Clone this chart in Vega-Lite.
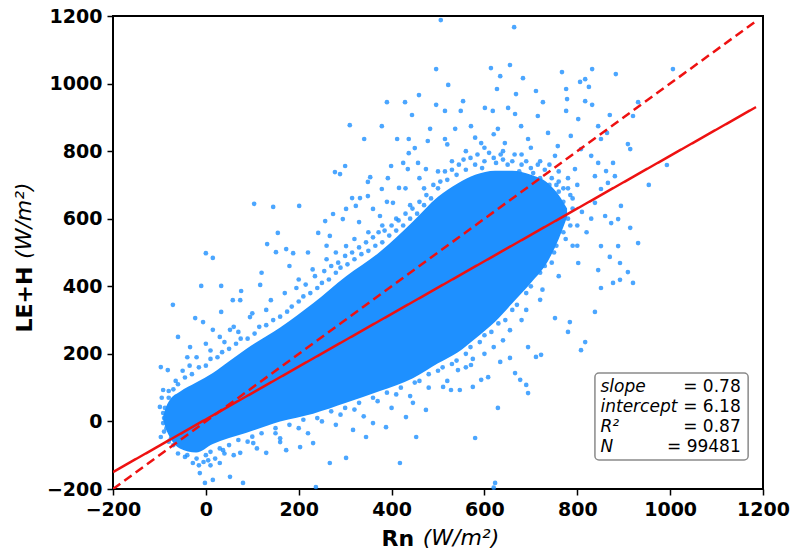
{
  "$schema": "https://vega.github.io/schema/vega-lite/v6.json",
  "width": 650,
  "height": 473,
  "autosize": {"type": "none"},
  "padding": {"left": 113, "top": 16, "right": 30, "bottom": 62},
  "background": "white",
  "config": {
    "view": {"stroke": "#000000", "strokeWidth": 2},
    "font": "DejaVu Sans",
    "axis": {
      "grid": false, "domain": false,
      "tickColor": "#000000", "tickWidth": 1.5, "tickSize": 6,
      "labelFont": "DejaVu Sans", "labelFontWeight": "bold", "labelFontSize": 19, "labelColor": "#000000",
      "labelOverlap": false, "labelFlush": false,
      "titleFont": "DejaVu Sans", "titleFontWeight": "bold", "titleFontSize": 22, "titleColor": "#000000"
    }
  },
  "layer": [
    {
      "data": {"values": [
        {"x": -92, "lo": 5, "hi": 15}, {"x": -86, "lo": -22, "hi": 42}, {"x": -77, "lo": -48, "hi": 65},
        {"x": -56, "lo": -80, "hi": 88}, {"x": -21, "lo": -92, "hi": 115}, {"x": 15, "lo": -67, "hi": 143},
        {"x": 50, "lo": -49, "hi": 178}, {"x": 86, "lo": -34, "hi": 214}, {"x": 160, "lo": 0, "hi": 278},
        {"x": 231, "lo": 23, "hi": 350}, {"x": 302, "lo": 55, "hi": 430}, {"x": 375, "lo": 90, "hi": 502},
        {"x": 446, "lo": 128, "hi": 592}, {"x": 500, "lo": 172, "hi": 665}, {"x": 543, "lo": 205, "hi": 705},
        {"x": 580, "lo": 245, "hi": 730}, {"x": 623, "lo": 295, "hi": 742}, {"x": 660, "lo": 350, "hi": 742},
        {"x": 700, "lo": 410, "hi": 730}, {"x": 737, "lo": 475, "hi": 705}, {"x": 760, "lo": 540, "hi": 670},
        {"x": 778, "lo": 605, "hi": 630}
      ]},
      "mark": {"type": "area", "color": "#1E90FF", "opacity": 1, "interpolate": "monotone"},
      "encoding": {
        "x": {"field": "x", "type": "quantitative",
              "scale": {"domain": [-200, 1200], "nice": false, "zero": false},
              "axis": {"values": [-200, 0, 200, 400, 600, 800, 1000, 1200], "format": "d", "title": "Rn",
                       "titleX": 268, "titleY": 49, "titleAlign": "left", "titleBaseline": "middle", "labelPadding": 5}},
        "y": {"field": "hi", "type": "quantitative",
              "scale": {"domain": [-200, 1200], "nice": false, "zero": false},
              "axis": {"values": [-200, 0, 200, 400, 600, 800, 1000, 1200], "format": "d", "title": "LE+H",
                       "titleAngle": 270, "titleX": -89, "titleY": 316, "titleAlign": "left", "titleBaseline": "middle", "labelPadding": 5}},
        "y2": {"field": "lo"}
      }
    },
    {
      "data": {"values": [
        {"x":506,"y":1188},{"x":664,"y":1167},{"x":496,"y":1043},{"x":459,"y":966},{"x":390,"y":945},{"x":429,"y":945},{"x":444,"y":907},{"x":496,"y":937},
        {"x":310,"y":877},{"x":379,"y":874},{"x":341,"y":836},{"x":412,"y":836},{"x":437,"y":836},{"x":483,"y":866},{"x":478,"y":830},{"x":450,"y":809},
        {"x":437,"y":794},{"x":300,"y":756},{"x":278,"y":738},{"x":289,"y":732},{"x":354,"y":723},{"x":349,"y":709},{"x":399,"y":756},{"x":392,"y":720},
        {"x":425,"y":765},{"x":435,"y":747},{"x":457,"y":765},{"x":474,"y":747},{"x":315,"y":661},{"x":332,"y":661},{"x":349,"y":667},{"x":379,"y":688},
        {"x":416,"y":691},{"x":104,"y":644},{"x":145,"y":635},{"x":201,"y":638},{"x":242,"y":558},{"x":274,"y":614},{"x":257,"y":593},{"x":302,"y":629},
        {"x":295,"y":599},{"x":323,"y":638},{"x":360,"y":629},{"x":375,"y":608},{"x":403,"y":647},{"x":155,"y":558},{"x":132,"y":525},{"x":0,"y":498},
        {"x":151,"y":501},{"x":173,"y":510},{"x":188,"y":498},{"x":267,"y":549},{"x":302,"y":519},
        {"x":15,"y":484},{"x":-71,"y":345},{"x":-10,"y":401},{"x":33,"y":401},{"x":76,"y":386},{"x":117,"y":404},{"x":140,"y":359},{"x":-60,"y":250},
        {"x":-23,"y":306},{"x":-6,"y":294},{"x":33,"y":324},{"x":58,"y":359},{"x":74,"y":359},{"x":95,"y":309},{"x":52,"y":271},{"x":15,"y":271},
        {"x":-34,"y":220},{"x":-97,"y":161},{"x":-82,"y":152},{"x":-92,"y":93},{"x":-99,"y":43},{"x":-92,"y":25},{"x":-97,"y":-46},{"x":-45,"y":-105},
        {"x":-28,"y":-123},{"x":-13,"y":-153},{"x":-2,"y":-182},{"x":15,"y":-173},{"x":30,"y":-123},{"x":52,"y":-164},{"x":80,"y":-182},{"x":37,"y":-85},
        {"x":74,"y":-93},{"x":102,"y":-64},{"x":130,"y":-93},{"x":173,"y":-85},{"x":160,"y":-61},{"x":203,"y":-76},{"x":231,"y":-64},{"x":267,"y":-123},
        {"x":302,"y":-108},{"x":317,"y":-25},{"x":345,"y":-46},{"x":360,"y":-5},{"x":388,"y":-17},{"x":418,"y":-123},{"x":431,"y":13},{"x":453,"y":-46},
        {"x":446,"y":55},{"x":474,"y":34},{"x":237,"y":-194},{"x":620,"y":-196},
        {"x":920,"y":410},{"x":909,"y":442},{"x":892,"y":419},{"x":877,"y":410},{"x":851,"y":395},{"x":838,"y":324},{"x":817,"y":235},{"x":808,"y":211},
        {"x":780,"y":265},{"x":784,"y":294},{"x":752,"y":306},{"x":722,"y":197},{"x":711,"y":191},{"x":694,"y":220},{"x":677,"y":123},{"x":690,"y":108},
        {"x":694,"y":84},{"x":666,"y":143},{"x":655,"y":188},{"x":634,"y":176},{"x":629,"y":40},{"x":593,"y":123},{"x":575,"y":102},{"x":580,"y":-49},
        {"x":623,"y":-182},{"x":528,"y":93},{"x":511,"y":102},{"x":547,"y":93},{"x":608,"y":131},{"x":571,"y":167},{"x":543,"y":152},{"x":802,"y":469},
        {"x":845,"y":448},{"x":892,"y":469},{"x":870,"y":487},
        {"x":614,"y":1046},{"x":655,"y":1055},{"x":634,"y":1022},{"x":683,"y":1016},{"x":522,"y":996},{"x":627,"y":984},{"x":668,"y":969},{"x":711,"y":978},
        {"x":767,"y":1034},{"x":832,"y":1043},{"x":883,"y":1028},{"x":806,"y":1005},{"x":817,"y":1013},{"x":825,"y":990},{"x":776,"y":984},{"x":778,"y":954},
        {"x":817,"y":948},{"x":832,"y":937},{"x":1006,"y":1043},{"x":931,"y":945},{"x":920,"y":904},{"x":870,"y":907},{"x":909,"y":821},{"x":914,"y":806},
        {"x":993,"y":759},{"x":954,"y":700},{"x":554,"y":948},{"x":549,"y":919},{"x":515,"y":919},{"x":601,"y":928},{"x":618,"y":919},{"x":651,"y":928},
        {"x":666,"y":910},{"x":726,"y":945},{"x":715,"y":904},{"x":776,"y":919},{"x":802,"y":895},{"x":845,"y":874},{"x":864,"y":854},{"x":851,"y":836},
        {"x":877,"y":765},{"x":862,"y":741},{"x":881,"y":726},{"x":866,"y":706},{"x":894,"y":638},{"x":888,"y":599},{"x":914,"y":573},{"x":931,"y":528},
        {"x":873,"y":587},{"x":851,"y":519},{"x":888,"y":519},{"x":571,"y":874},{"x":593,"y":824},{"x":629,"y":866},{"x":679,"y":874},{"x":694,"y":836},
        {"x":737,"y":854},{"x":758,"y":815},{"x":786,"y":845},{"x":808,"y":806},{"x":830,"y":786},{"x":845,"y":765},{"x":838,"y":726},{"x":851,"y":688},
        {"x":838,"y":647},{"x":860,"y":608},{"x":515,"y":836},{"x":537,"y":866},{"x":644,"y":824},{"x":752,"y":786},{"x":795,"y":747},
        {"x":-60,"y":110},{"x":-45,"y":130},{"x":-30,"y":140},{"x":-15,"y":160},{"x":0,"y":165},{"x":10,"y":185},{"x":25,"y":190},{"x":35,"y":205},
        {"x":50,"y":215},{"x":65,"y":230},{"x":75,"y":245},{"x":90,"y":245},{"x":105,"y":260},{"x":115,"y":280},{"x":130,"y":285},{"x":145,"y":300},
        {"x":160,"y":310},{"x":175,"y":325},{"x":185,"y":340},{"x":200,"y":355},{"x":210,"y":370},{"x":225,"y":380},{"x":240,"y":395},{"x":250,"y":410},
        {"x":265,"y":420},{"x":280,"y":440},{"x":290,"y":455},{"x":305,"y":465},{"x":320,"y":480},{"x":335,"y":495},{"x":350,"y":505},{"x":365,"y":520},
        {"x":380,"y":530},{"x":395,"y":550},{"x":410,"y":565},{"x":425,"y":580},{"x":440,"y":600},{"x":455,"y":615},{"x":470,"y":640},{"x":485,"y":660},
        {"x":500,"y":690},{"x":520,"y":715},{"x":540,"y":730},{"x":560,"y":745},{"x":580,"y":760},{"x":600,"y":770},{"x":620,"y":780},{"x":640,"y":775},
        {"x":660,"y":770},{"x":680,"y":760},{"x":700,"y":750},{"x":720,"y":720},{"x":740,"y":700},{"x":760,"y":680},
        {"x":-40,"y":190},{"x":0,"y":230},{"x":30,"y":250},{"x":60,"y":280},{"x":100,"y":320},{"x":130,"y":330},{"x":170,"y":380},{"x":200,"y":420},
        {"x":230,"y":450},{"x":260,"y":480},{"x":280,"y":500},{"x":320,"y":540},{"x":350,"y":560},{"x":380,"y":580},{"x":410,"y":600},{"x":440,"y":640},
        {"x":470,"y":690},{"x":500,"y":740},{"x":530,"y":770},{"x":560,"y":800},{"x":600,"y":810},{"x":640,"y":800},{"x":680,"y":790},{"x":720,"y":770},
        {"x":760,"y":740},{"x":120,"y":440},{"x":180,"y":460},{"x":220,"y":500},{"x":260,"y":520},{"x":330,"y":590},{"x":390,"y":650},{"x":430,"y":690},
        {"x":460,"y":720},{"x":520,"y":820},{"x":580,"y":840},{"x":620,"y":850},{"x":700,"y":810},{"x":740,"y":760},{"x":780,"y":720},
        {"x":-70,"y":-70},{"x":-60,"y":-95},{"x":-40,"y":-100},{"x":-20,"y":-110},{"x":0,"y":-100},{"x":10,"y":-90},{"x":30,"y":-80},{"x":50,"y":-70},
        {"x":70,"y":-55},{"x":100,"y":-45},{"x":120,"y":-35},{"x":150,"y":-20},{"x":180,"y":-10},{"x":210,"y":5},{"x":240,"y":10},{"x":270,"y":30},
        {"x":300,"y":40},{"x":330,"y":55},{"x":360,"y":70},{"x":390,"y":85},{"x":420,"y":100},{"x":450,"y":115},{"x":480,"y":140},{"x":510,"y":160},
        {"x":540,"y":180},{"x":570,"y":220},{"x":600,"y":255},{"x":630,"y":290},{"x":660,"y":330},{"x":690,"y":380},{"x":720,"y":440},{"x":750,"y":500},
        {"x":770,"y":560},{"x":780,"y":600},
        {"x":20,"y":-110},{"x":60,"y":-100},{"x":110,"y":-80},{"x":160,"y":-50},{"x":220,"y":-35},{"x":280,"y":-10},{"x":340,"y":15},{"x":400,"y":40},
        {"x":440,"y":75},{"x":480,"y":100},{"x":520,"y":120},{"x":560,"y":160},{"x":600,"y":200},{"x":640,"y":240},{"x":680,"y":300},{"x":720,"y":360},
        {"x":760,"y":430},{"x":790,"y":520},{"x":800,"y":580},
        {"x":770,"y":650},{"x":790,"y":660},{"x":800,"y":700},{"x":780,"y":690},{"x":760,"y":710},{"x":810,"y":620},{"x":820,"y":560},{"x":800,"y":520},
        {"x":830,"y":600},{"x":775,"y":540},{"x":745,"y":580},
        {"x":-90,"y":10},{"x":-85,"y":-20},{"x":-88,"y":40},{"x":-80,"y":70},{"x":-75,"y":-50},{"x":-92,"y":-5},{"x":-70,"y":95},
        {"x":-5,"y":-120},{"x":5,"y":-115},{"x":-15,"y":-130},{"x":10,"y":-130},
        {"x":195,"y":395},{"x":215,"y":405},{"x":235,"y":430},{"x":255,"y":445},{"x":270,"y":460},{"x":285,"y":470},{"x":300,"y":490},{"x":315,"y":500},
        {"x":330,"y":515},{"x":345,"y":530},{"x":360,"y":545},{"x":372,"y":560},{"x":385,"y":565},{"x":400,"y":580},{"x":415,"y":595},{"x":430,"y":615},
        {"x":445,"y":630},{"x":460,"y":650},{"x":475,"y":670},{"x":490,"y":700},{"x":505,"y":710},{"x":515,"y":740},{"x":530,"y":745},{"x":545,"y":760},
        {"x":555,"y":775},{"x":570,"y":780},{"x":585,"y":790},{"x":595,"y":750},{"x":610,"y":795},{"x":625,"y":765},{"x":635,"y":790},{"x":650,"y":760},
        {"x":665,"y":790},{"x":675,"y":740},{"x":690,"y":770},{"x":705,"y":735},{"x":715,"y":760},{"x":730,"y":745},{"x":745,"y":720},{"x":755,"y":700},
        {"x":770,"y":690},{"x":785,"y":670},{"x":790,"y":630},{"x":765,"y":620},
        {"x":560,"y":200},{"x":590,"y":235},{"x":615,"y":265},{"x":645,"y":300},{"x":670,"y":345},{"x":700,"y":400},{"x":730,"y":460},{"x":755,"y":520},
        {"x":785,"y":580},{"x":575,"y":185},{"x":620,"y":220},{"x":655,"y":270},{"x":690,"y":330},{"x":725,"y":390},{"x":745,"y":470},{"x":500,"y":150},
        {"x":530,"y":170},{"x":460,"y":120},{"x":410,"y":80},{"x":370,"y":60},{"x":320,"y":35},{"x":290,"y":20},{"x":250,"y":0},{"x":200,"y":-20},
        {"x":150,"y":-35},{"x":90,"y":-60},{"x":40,"y":-95},
        {"x":-80,"y":90},{"x":-65,"y":120},{"x":-50,"y":150},{"x":-35,"y":165},{"x":-20,"y":190},{"x":10,"y":210},{"x":40,"y":235},{"x":70,"y":265},
        {"x":-95,"y":70},{"x":-90,"y":-30},{"x":-80,"y":-60}
      ]},
      "mark": {"type": "circle", "size": 22, "color": "#1E90FF", "opacity": 0.8},
      "encoding": {
        "x": {"field": "x", "type": "quantitative"},
        "y": {"field": "y", "type": "quantitative"}
      }
    },
    {
      "data": {"values": [
        {"x": -200, "y": -149.82, "kind": "fit"}, {"x": 1185, "y": 930.48, "kind": "fit"},
        {"x": -200, "y": -200, "kind": "one"}, {"x": 1185, "y": 1185, "kind": "one"}
      ]},
      "mark": {"type": "line", "color": "#EE1111", "strokeWidth": 2.5, "clip": true},
      "encoding": {
        "x": {"field": "x", "type": "quantitative"},
        "y": {"field": "y", "type": "quantitative"},
        "strokeDash": {"field": "kind", "type": "nominal",
                       "scale": {"domain": ["fit", "one"], "range": [[1, 0], [9, 5]]}, "legend": null}
      }
    },
    {
      "data": {"values": [{}]},
      "mark": {"type": "rect", "fill": "white", "fillOpacity": 0.85, "stroke": "#8a8a8a", "strokeWidth": 1.5, "cornerRadius": 4},
      "encoding": {
        "x": {"datum": 838}, "x2": {"datum": 1168},
        "y": {"datum": 143}, "y2": {"datum": -114}
      }
    },
    {
      "data": {"values": [{}]},
      "mark": {"type": "text", "text": ["slope", "intercept", "R²", "N"], "align": "left", "baseline": "middle",
               "fontStyle": "italic", "fontSize": 17, "lineHeight": 20, "font": "DejaVu Sans", "color": "#000000"},
      "encoding": {"x": {"datum": 850}, "y": {"datum": 102}}
    },
    {
      "data": {"values": [{}]},
      "mark": {"type": "text", "text": ["= 0.78", "= 6.18", "= 0.87", "= 99481"], "align": "right", "baseline": "middle",
               "fontSize": 17, "lineHeight": 20, "font": "DejaVu Sans", "color": "#000000"},
      "encoding": {"x": {"datum": 1152}, "y": {"datum": 102}}
    },
    {
      "data": {"values": [{}]},
      "mark": {"type": "text", "text": "(W/m²)", "align": "left", "baseline": "middle",
               "fontStyle": "italic", "fontSize": 22, "font": "DejaVu Sans", "color": "#000000"},
      "encoding": {"x": {"datum": 467}, "y": {"datum": -345}}
    },
    {
      "data": {"values": [{}]},
      "mark": {"type": "text", "text": "(W/m²)", "align": "left", "baseline": "middle", "angle": 270,
               "fontStyle": "italic", "fontSize": 22, "font": "DejaVu Sans", "color": "#000000"},
      "encoding": {"x": {"datum": -392}, "y": {"datum": 481}}
    }
  ]
}
